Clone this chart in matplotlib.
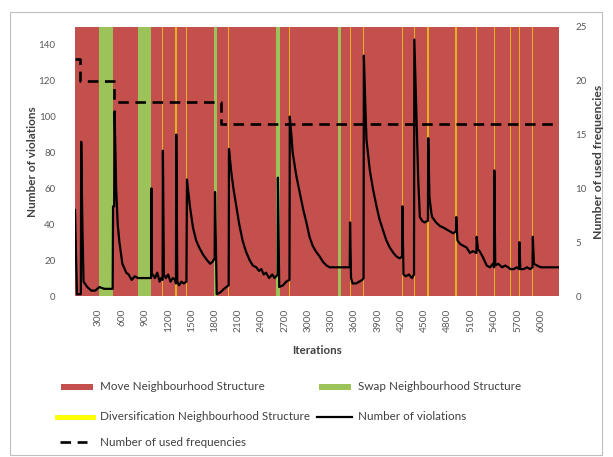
import matplotlib
matplotlib.use('Agg')
import matplotlib.pyplot as plt
from matplotlib.lines import Line2D
from matplotlib.patches import Rectangle

plt.rcParams['font.family'] = ['Lato', 'DejaVu Sans']

# ---------------- data ----------------
iterations = [0, 25, 75, 80, 95, 110, 159, 210, 262, 313, 378, 485, 490, 505, 510, 530, 550, 572,
              610, 660, 690, 730, 770, 810, 900, 980, 985, 990, 1000, 1030, 1060, 1090, 1110, 1128,
              1132, 1145, 1170, 1200, 1230, 1260, 1290, 1300, 1304, 1318, 1340, 1370, 1400, 1435,
              1442, 1480, 1520, 1560, 1600, 1650, 1700, 1740, 1770, 1798, 1803, 1825, 1870, 1920,
              1979, 1983, 2010, 2040, 2077, 2115, 2158, 2200, 2249, 2290, 2335, 2370, 2400, 2430,
              2460, 2500, 2540, 2570, 2610, 2613, 2630, 2680, 2720, 2762, 2766, 2790, 2803, 2850,
              2893, 2940, 2980, 3020, 3061, 3100, 3151, 3194, 3240, 3280, 3367, 3450, 3538, 3542,
              3555, 3575, 3620, 3660, 3700, 3716, 3720, 3740, 3754, 3797, 3840, 3883, 3920, 3964,
              4010, 4054, 4100, 4141, 4180, 4212, 4217, 4230, 4260, 4300, 4340, 4366, 4370, 4385,
              4399, 4420, 4441, 4470, 4500, 4545, 4549, 4565, 4590, 4600, 4650, 4700, 4750, 4790,
              4830, 4870, 4906, 4910, 4925, 4960, 5000, 5044, 5086, 5125, 5169, 5173, 5190, 5210,
              5249, 5280, 5302, 5344, 5382, 5396, 5400, 5412, 5450, 5500, 5540, 5580, 5605, 5650,
              5690, 5719, 5723, 5735, 5780, 5820, 5860, 5892, 5896, 5910, 5950, 6000, 6100, 6230]
violations = [48, 1, 1, 86, 40, 8, 5, 3, 3, 5, 4, 4, 50, 50, 103, 60, 40, 30,
              18, 13, 12, 9, 11, 10, 10, 10, 60, 12, 12, 10, 13, 8, 10, 9,
              81, 12, 10, 12, 8, 10, 9, 7, 90, 8, 6, 8, 7, 8,
              65, 50, 38, 31, 27, 23, 20, 18, 19, 21, 58, 1, 2, 4,
              6, 82, 70, 60, 50, 40, 31, 25, 20, 17, 16, 14, 15, 12,
              13, 10, 12, 10, 12, 66, 5, 6, 8, 9, 100, 88, 80, 67,
              58, 48, 41, 33, 28, 25, 22, 19, 17, 16, 16, 16, 16, 41,
              10, 7, 7, 8, 9, 10, 134, 105, 87, 70, 59, 50, 43, 37,
              31, 27, 24, 22, 21, 22, 50, 12, 11, 12, 10, 12, 143, 120,
              98, 65, 44, 42, 41, 42, 88, 55, 46, 44, 41, 39, 38, 37,
              36, 35, 36, 44, 31, 29, 28, 27, 24, 25, 24, 33, 26, 25,
              22, 19, 17, 16, 18, 16, 70, 17, 18, 16, 17, 16, 15, 15,
              16, 15, 30, 15, 15, 16, 15, 16, 33, 18, 17, 16, 16, 16]

freq_iter = [0, 68, 507, 1875, 6150]
freq_vals = [22, 20, 18, 16, 16]

swap_bands = [(304, 485), (807, 980), (1790, 1830), (2590, 2640), (3385, 3420)]
divers_iters = [1130, 1302, 1440, 1981, 2764, 3544, 3718, 4215, 4370, 4547, 4908,
                5171, 5398, 5605, 5721, 5894]
x_end = 6233

xtick_vals = list(range(300, 6001, 300))
left_ticks = list(range(0, 141, 20))
right_ticks = list(range(0, 26, 5))

RED = '#c4504e'
GREEN = '#9cc35a'
YELLOW = '#ffff00'
TICK = '#595959'
LAB = '#404040'

W, H = 613, 457
fig = plt.figure(figsize=(W / 100, H / 100), dpi=100)

def fx(x):
    return x / W

def fy(y):
    return 1 - y / H

# chart border
fig.add_artist(Rectangle((fx(10), fy(455)), fx(602) - fx(10), fy(12) - fy(455),
                         transform=fig.transFigure, fill=False, edgecolor='#bfbfbf', lw=0.8))

L, R, T, B = 75, 559, 27, 296
ax = fig.add_axes([fx(L), fy(B), fx(R) - fx(L), fy(T) - fy(B)])
ax.set_xlim(0, x_end)
ax.set_ylim(0, 150)

# Move structure background
ax.axvspan(0, x_end, color=RED, lw=0, zorder=0)
for a, b in swap_bands:
    ax.axvspan(a, b, color=GREEN, lw=0, zorder=1)
for t in divers_iters:
    ax.axvspan(t - 8, t + 8, color=YELLOW, lw=0, zorder=1, alpha=0.55)

ax.plot(iterations, violations, color='black', lw=1.6, zorder=3)

ax.set_xticks(xtick_vals)
ax.set_xticklabels([str(v) for v in xtick_vals], rotation=90, fontsize=7.3, color=TICK)
ax.set_yticks(left_ticks)
ax.set_yticklabels([str(v) for v in left_ticks], fontsize=7, color=TICK)
ax.tick_params(axis='both', length=0)
ax.tick_params(axis='y', pad=14)
ax.tick_params(axis='x', pad=9)
for s in ax.spines.values():
    s.set_visible(False)

ax2 = ax.twinx()
ax2.set_ylim(0, 25)
ax2.plot(freq_iter, freq_vals, color='black', lw=1.9, ls=(0, (4, 2.5)), drawstyle='steps-post', zorder=4)
ax2.set_yticks(right_ticks)
ax2.set_yticklabels([str(v) for v in right_ticks], fontsize=7, color=TICK)
ax2.tick_params(axis='y', length=0, pad=12)
for s in ax2.spines.values():
    s.set_visible(False)

fig.text(fx(317), fy(350), 'Iterations', ha='center', va='center',
         fontsize=8.3, fontweight='bold', color=LAB)
fig.text(fx(33), fy(161.5), 'Number of violations', rotation=90, ha='center', va='center',
         fontsize=8.5, fontweight='bold', color=LAB)
fig.text(fx(598), fy(161.5), 'Number of used frequencies', rotation=90, ha='center', va='center',
         fontsize=8.8, fontweight='bold', color=LAB)

# legend (manual)
leg_fs = 8.4
def leg_text(x, y, s):
    fig.text(fx(x), fy(y), s, ha='left', va='center', fontsize=leg_fs, color='#404040')

fig.add_artist(Rectangle((fx(61), fy(390)), fx(93) - fx(61), fy(384) - fy(390),
                         transform=fig.transFigure, color=RED, lw=0))
leg_text(100, 387, 'Move Neighbourhood Structure')
fig.add_artist(Rectangle((fx(319), fy(390)), fx(351) - fx(319), fy(384) - fy(390),
                         transform=fig.transFigure, color=GREEN, lw=0))
leg_text(358, 387, 'Swap Neighbourhood Structure')
fig.add_artist(Line2D([fx(57), fx(93)], [fy(417), fy(417)], transform=fig.transFigure,
                      color=YELLOW, lw=3.5))
leg_text(100, 417, 'Diversification Neighbourhood Structure')
fig.add_artist(Line2D([fx(317), fx(352)], [fy(417), fy(417)], transform=fig.transFigure,
                      color='black', lw=1.6))
leg_text(358, 417, 'Number of violations')
fig.add_artist(Line2D([fx(60), fx(87)], [fy(442), fy(442)], transform=fig.transFigure,
                      color='black', lw=1.9, ls=(0, (4, 2.5))))
leg_text(100, 442, 'Number of used frequencies')

fig.savefig('out.png', dpi=100)
